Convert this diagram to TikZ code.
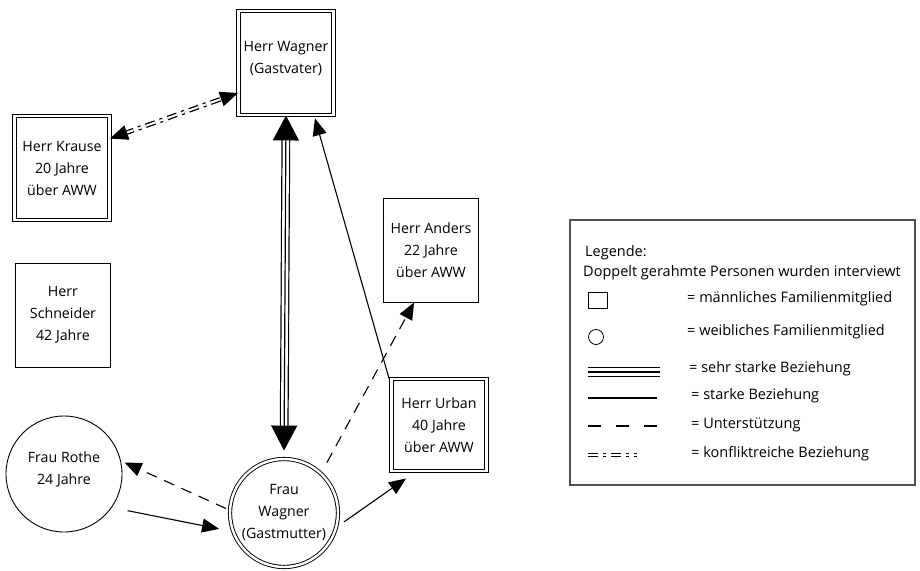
\documentclass[tikz,border=0pt]{standalone}
\usepackage{fontspec}
\setmainfont{Open Sans}
\usepackage{xcolor}
\usepackage{tikz}
\usetikzlibrary{arrows.meta}
\definecolor{framegray}{HTML}{505050}

\begin{document}
\begin{tikzpicture}[x=1pt,y=-1pt,
  person/.style={draw,line width=0.9pt,minimum width=95pt,minimum height=104pt,inner sep=0pt,align=center,font=\fontsize{14.2}{22}\selectfont},
  interviewed/.style={double,double distance=2.4pt},
  frau/.style={person,circle,minimum size=114pt},
  legtext/.style={anchor=west,inner sep=0pt,font=\fontsize{14.5}{16}\selectfont},
  arr/.style={line width=1.1pt,-{Triangle[length=17pt,width=14pt]}},
  support/.style={arr,dash pattern=on 11pt off 8pt},
  conflict/.style={double,line width=1.3pt,double distance=2pt,dash pattern=on 10pt off 5pt on 3pt off 5pt,shorten <=15pt,shorten >=15pt},
  conflicttips/.style={line width=1pt,dash pattern=on 0pt off 800pt,{Triangle[length=18pt,width=15pt]}-{Triangle[length=18pt,width=15pt]}},
  verystrong/.style={double,line width=1.2pt,double distance=6.4pt,shorten <=23pt,shorten >=32pt},
  verystrongtips/.style={line width=1.2pt,shorten >=8pt,{Triangle[length=25pt,width=26pt]}-{Triangle[length=25pt,width=26pt]}}]
  \useasboundingbox (0,0) rectangle (920,570);

  \node[person,interviewed] (hw) at (286,63) {Herr Wagner\\(Gastvater)\\[-10pt]\mbox{}};
  \node[person,interviewed] (hk) at (62,168) {Herr Krause\\20 Jahre\\über AWW};
  \node[person] (hs) at (63,315) {Herr\\Schneider\\42 Jahre};
  \node[person] (an) at (431,250) {Herr Anders\\22 Jahre\\über AWW};
  \node[person,interviewed,minimum height=92pt] (ub) at (439,425) {Herr Urban\\40 Jahre\\über AWW};
  \node[frau,minimum size=116pt] (fr) at (64,474) {Frau Rothe\\24 Jahre\\[-10pt]\mbox{}};
  \node[frau,interviewed,minimum size=108pt] (fw) at (284,513) {Frau\\Wagner\\(Gastmutter)};

  \draw[verystrong] (hw.south) -- (fw.north);
  \draw[verystrongtips] (hw.south) -- (fw.north);
  \draw[conflict] ([yshift=-23pt]hk.north east) -- ([yshift=-30pt]hw.west);
  \draw[conflicttips] ([yshift=-23pt]hk.north east) -- ([yshift=-30pt]hw.west);
  \draw[arr] ([xshift=-2pt]ub.north west) -- ([xshift=-19pt,yshift=-3pt]hw.south east);
  \draw[support,shorten <=12pt] (fw.47) -- ([xshift=31pt]an.south west);
  \draw[support,shorten <=4pt,shorten >=4pt] (fw.177) -- (fr.13);
  \draw[arr,shorten <=16pt,shorten >=14pt] (fr.-35) -- (fw.200);
  \draw[arr,shorten <=9pt] (fw.-15) -- ([xshift=15pt,yshift=-7pt]ub.south west);

  % Legende
  \draw[framegray,line width=1.2pt] (570,220) rectangle (915,485);
  \node[legtext] (lg1) at (585,253) {Legende:};
  \node[legtext] (lg2) at (583,273) {Doppelt gerahmte Personen wurden interviewt};
  \draw[line width=0.8pt] (588,292) rectangle (607,308);
  \draw[line width=0.8pt] (596,337) circle[radius=7.5pt];
  \draw[double,line width=1.2pt,double distance=8pt] (588,372) -- (660,372);
  \draw[line width=1.2pt] (588,372) -- (660,372);
  \draw[line width=1.2pt] (588,398) -- (657,398);
  \draw[line width=1.2pt,dash pattern=on 13pt off 15pt] (588,426) -- (665,426);
  \draw[double,line width=1.1pt,double distance=2pt,dash pattern=on 10pt off 5pt on 3pt off 5pt] (588,455) -- (637,455);
  \node[legtext] (lg3) at (687,299) {= männliches Familienmitglied};
  \node[legtext] (lg4) at (687,332) {= weibliches Familienmitglied};
  \node[legtext] (lg5) at (689,369) {= sehr starke Beziehung};
  \node[legtext] (lg6) at (691,396) {= starke Beziehung};
  \node[legtext] (lg7) at (691,425) {= Unterstützung};
  \node[legtext] (lg8) at (691,454) {= konfliktreiche Beziehung};
\end{tikzpicture}
\end{document}
